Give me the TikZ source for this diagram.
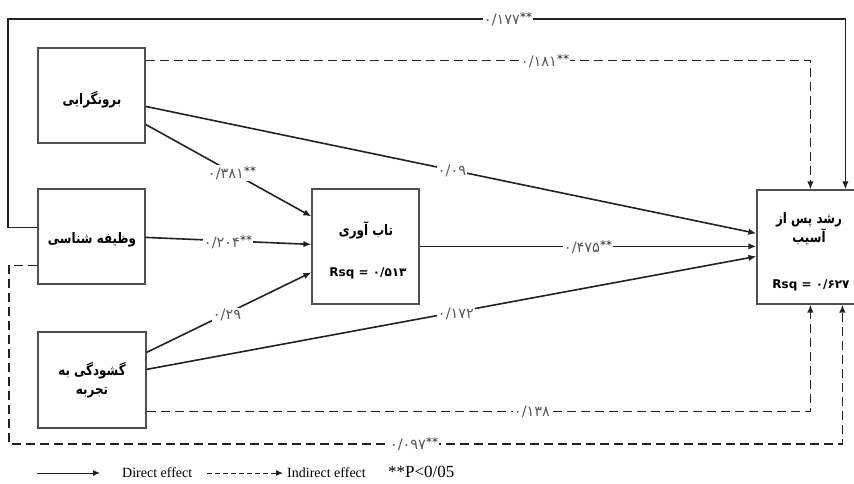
\documentclass[tikz,border=0pt]{standalone}
\usepackage{fontspec}
\setmainfont{Liberation Serif}
\newfontfamily\fa[Script=Arabic]{DejaVu Sans}
\newfontfamily\fan[Script=Arabic,FakeStretch=0.82]{DejaVu Sans}
\TeXXeTstate=1
\usetikzlibrary{arrows.meta,calc}
\definecolor{ln}{HTML}{222222}
\definecolor{lb}{HTML}{5A5A5A}
\definecolor{bx}{HTML}{505050}
\newcommand\sigstar{\raisebox{3.5pt}{\fontsize{12}{12}\selectfont\color{ln}**}}
\begin{document}
\begin{tikzpicture}[x=1pt,y=-1pt,
  box/.style={draw=bx,line width=1.2pt,inner sep=0pt},
  ttl/.style={font=\fan\bfseries\fontsize{14.5}{19}\selectfont,text=black,align=center},
  rsq/.style={font=\fa\bfseries\fontsize{12}{14}\selectfont,text=black},
  lab/.style={fill=white,inner sep=1pt,text=lb,font=\fa\fontsize{14.5}{15}\selectfont},
  sol/.style={draw=ln,line width=1.6pt},
  dsh/.style={sol,dash pattern=on 9pt off 5pt},
  tip/.style={-{Latex[length=8pt,width=6.5pt]}},
  leg/.style={anchor=west,inner sep=0pt,font=\fontsize{14}{16}\selectfont}]
\useasboundingbox (0,0) rectangle (854,484);
% boxes
\node[box,minimum width=107pt,minimum height=95pt] (ext) at (91.5,95.5) {};
\node[box,minimum width=107pt,minimum height=95pt] (con) at (91.5,236.5) {};
\node[box,minimum width=108pt,minimum height=96pt] (opn) at (92,380) {};
\node[box,minimum width=107pt,minimum height=115pt] (tab) at (365.5,246.5) {};
\node[box,minimum width=106pt,minimum height=114pt] (rsd) at (810,247) {};
% box texts
\node[ttl] (t1) at (92,100) {\beginR برونگرایی\endR};
\node[ttl] (t2) at (92,240) {\beginR وظیفه شناسی\endR};
\node[ttl] (t3) at (92,380) {\beginR گشودگی به\endR\\\beginR تجربه\endR};
\node[ttl] (t4) at (366,230) {\beginR تاب آوری\endR};
\node[rsq] (r4) at (368,273) {Rsq = ۰/۵۱۳};
\node[ttl] (t5) at (809,229) {\beginR رشد پس از\endR\\\beginR آسیب\endR};
\node[rsq] (r5) at (811,285) {Rsq = ۰/۶۲۷};
% helper coordinates
\coordinate (tl) at (8,19);
\coordinate (bl) at (9,444);
% direct paths
\draw[sol,tip] ($(ext.north east)+(0,59)$) -- ($(rsd.north west)+(0,44)$);
\draw[sol,tip] ($(ext.north east)+(0,77)$) -- ($(tab.north west)+(0,28)$);
\draw[sol,tip] ($(con.north east)+(0,49)$) -- ($(tab.north west)+(0,56)$);
\draw[sol,tip] ($(opn.north east)+(0,21)$) -- ($(tab.north west)+(0,84)$);
\draw[sol,tip] ($(opn.north east)+(0,38)$) -- ($(rsd.north west)+(0,67)$);
\draw[sol,tip] ($(tab.north east)+(0,58)$) -- ($(rsd.north west)+(0,57)$);
\draw[sol,tip] ($(con.north west)+(0,39)$) -| (tl) -| ($(rsd.north west)+(89,0)$);
% indirect paths
\draw[dsh,tip] ($(ext.north east)+(0,13)$) -| ($(rsd.north west)+(54,0)$);
\draw[dsh,tip] ($(opn.north east)+(0,80)$) -| ($(rsd.south west)+(54,0)$);
\draw[dsh,tip] ($(con.north west)+(0,77)$) -| (bl) -| ($(rsd.south west)+(86,0)$);
% labels
\node[lab] (l1) at (508,19) {۰/۱۷۷\sigstar};
\node[lab] (l2) at (545,61) {۰/۱۸۱\sigstar};
\node[lab] (l3) at (452,171) {۰/۰۹};
\node[lab] (l4) at (232,173) {۰/۳۸۱\sigstar};
\node[lab] (l5) at (228,242) {۰/۲۰۴\sigstar};
\node[lab] (l6) at (227,315) {۰/۲۹};
\node[lab] (l7) at (456,314) {۰/۱۷۲};
\node[lab] (l8) at (588,247) {۰/۴۷۵\sigstar};
\node[lab] (l9) at (532,412) {۰/۱۳۸};
\node[lab] (l10) at (414,444) {۰/۰۹۷\sigstar};
% legend
\coordinate (d1) at (37,473);
\coordinate (d2) at (100,473);
\coordinate (i1) at (207,473);
\coordinate (i2) at (283,473);
\draw[draw=ln,line width=1pt,-{Latex[length=7pt,width=6pt]}] (d1) -- (d2);
\draw[draw=ln,line width=1pt,dash pattern=on 5pt off 3pt,-{Latex[length=7pt,width=6pt]}] (i1) -- (i2);
\node[leg] (dt) at (122,473) {Direct effect};
\node[leg] (it) at (287,473) {Indirect effect};
\node[leg,font=\fontsize{17}{19}\selectfont] (pt) at (388,472) {**P<0/05};
\end{tikzpicture}
\end{document}
